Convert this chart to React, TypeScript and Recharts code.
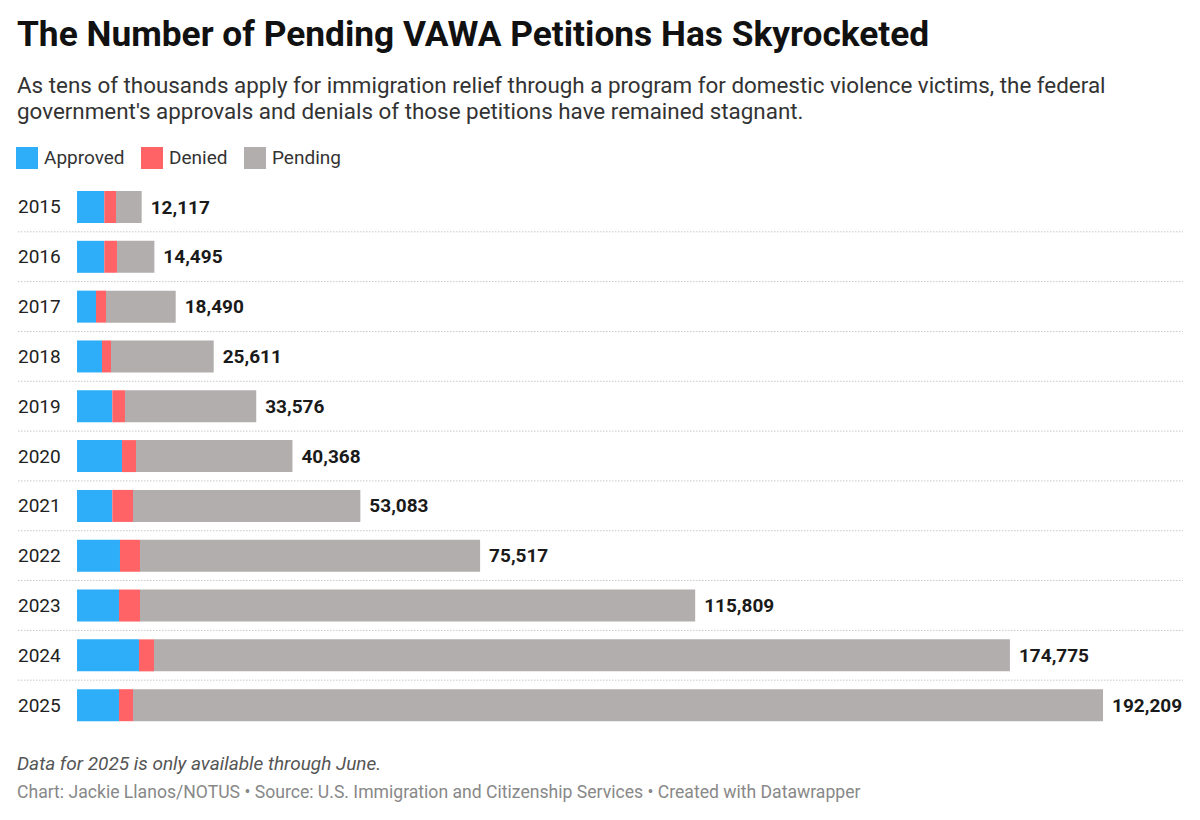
import { BarChart, Bar, XAxis, YAxis, LabelList } from 'recharts';

const years = ['2015', '2016', '2017', '2018', '2019', '2020', '2021', '2022', '2023', '2024', '2025'];
const approved = [5113, 5113, 3558, 4682, 6617, 8428, 6617, 8053, 7866, 11611, 7866];
const denied = [2190, 2378, 1873, 1686, 2372, 2622, 3870, 3746, 3933, 2809, 2622];
const totals = [12117, 14495, 18490, 25611, 33576, 40368, 53083, 75517, 115809, 174775, 192209];

const data = years.map((year, i) => ({
  year,
  approved: approved[i],
  denied: denied[i],
  pending: totals[i] - approved[i] - denied[i],
  total: totals[i],
}));

const CHART_TOP = 182;
const CHART_HEIGHT = 548;
const band = CHART_HEIGHT / years.length;

const YearTick = (props: any) => {
  const { y, payload, index } = props;
  return (
    <g>
      <text x={18} y={y} dy={6.5} fontSize={19} fill="#222" fontFamily="Roboto" textAnchor="start">
        {payload.value}
      </text>
      {index < years.length - 1 && (
        <line
          x1={18}
          x2={1183}
          y1={y + band / 2}
          y2={y + band / 2}
          stroke="#c8c8c8"
          strokeWidth={1}
          strokeDasharray="1.5 1.5"
        />
      )}
    </g>
  );
};

const TotalLabel = (props: any) => {
  const { x, y, width, height, value } = props;
  return (
    <text
      x={x + width + 9}
      y={y + height / 2}
      dy={6.5}
      fontSize={19}
      fontWeight={700}
      fill="#1a1a1a"
      fontFamily="Roboto"
    >
      {Number(value).toLocaleString('en-US')}
    </text>
  );
};

const legend = [
  { name: 'Approved', color: '#2eaef8', x: 16 },
  { name: 'Denied', color: '#ff6366', x: 141 },
  { name: 'Pending', color: '#b3aeae', x: 244 },
];

export default function App() {
  return (
    <div
      style={{
        position: 'absolute',
        left: 0,
        top: 0,
        width: 1200,
        height: 820,
        background: '#fff',
        fontFamily: 'Roboto, sans-serif',
        overflow: 'hidden',
      }}
    >
      <div style={{ position: 'absolute', left: 17, top: 13, fontSize: 35.3, fontWeight: 700, color: '#111', whiteSpace: 'nowrap' }}>
        The Number of Pending VAWA Petitions Has Skyrocketed
      </div>
      <div style={{ position: 'absolute', left: 17, top: 72, fontSize: 22.4, lineHeight: '26px', color: '#333', whiteSpace: 'nowrap' }}>
        As tens of thousands apply for immigration relief through a program for domestic violence victims, the federal
        <br />
        government's approvals and denials of those petitions have remained stagnant.
      </div>
      {legend.map((l) => (
        <div key={l.name} style={{ position: 'absolute', left: l.x, top: 146, display: 'flex', alignItems: 'center' }}>
          <div style={{ width: 22, height: 22, background: l.color, marginRight: 6 }} />
          <span style={{ fontSize: 19, color: '#333' }}>{l.name}</span>
        </div>
      ))}

      <div style={{ position: 'absolute', left: 0, top: CHART_TOP }}>
        <BarChart
          width={1200}
          height={CHART_HEIGHT}
          data={data}
          layout="vertical"
          margin={{ top: 0, right: 97, bottom: 0, left: 0 }}
          barSize={32}
        >
          <XAxis type="number" domain={[0, 192209]} hide />
          <YAxis
            type="category"
            dataKey="year"
            width={77}
            axisLine={false}
            tickLine={false}
            tick={<YearTick />}
            interval={0}
          />
          <Bar dataKey="approved" stackId="a" fill="#2eaef8" isAnimationActive={false} />
          <Bar dataKey="denied" stackId="a" fill="#ff6366" isAnimationActive={false} />
          <Bar dataKey="pending" stackId="a" fill="#b3aeae" isAnimationActive={false}>
            <LabelList dataKey="total" content={<TotalLabel />} />
          </Bar>
        </BarChart>
      </div>

      <div style={{ position: 'absolute', left: 17, top: 752, fontSize: 19, fontStyle: 'italic', color: '#555' }}>
        Data for 2025 is only available through June.
      </div>
      <div style={{ position: 'absolute', left: 17, top: 782, fontSize: 17.6, color: '#888' }}>
        Chart: Jackie Llanos/NOTUS • Source: U.S. Immigration and Citizenship Services • Created with Datawrapper
      </div>
    </div>
  );
}
